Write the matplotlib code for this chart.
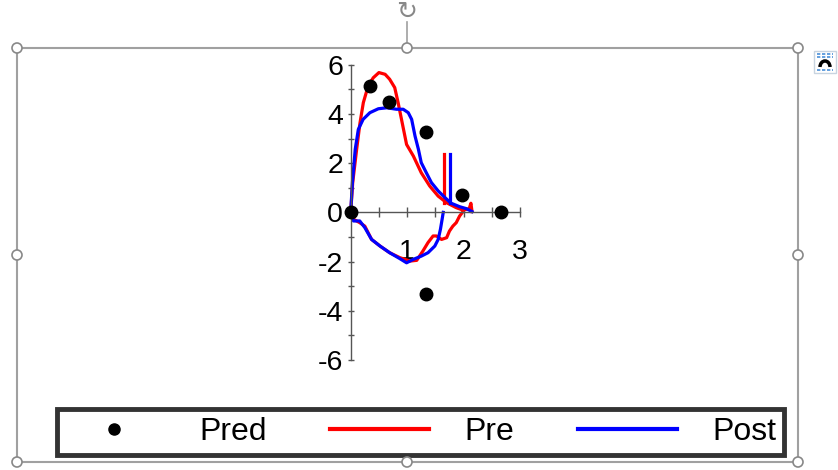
import matplotlib.pyplot as plt
from matplotlib.patches import Rectangle, Ellipse, Arc
from matplotlib.lines import Line2D

plt.rcParams['font.family'] = ['Liberation Sans', 'DejaVu Sans']
plt.rcParams['axes.unicode_minus'] = False

# Pred points
pred_x = [0.0, 0.35, 0.68, 1.33, 1.33, 1.98, 2.66]
pred_y = [0.0, 5.15, 4.5, 3.25, -3.33, 0.7, 0.0]

# Pre curve (upper branch, lower branch, vertical spike)
pre_up_x = [0.0, 0.035, 0.106, 0.165, 0.224, 0.31, 0.40, 0.50, 0.61, 0.69, 0.78, 0.84,
            0.90, 0.99, 1.11, 1.25, 1.40, 1.55, 1.70, 1.87, 1.99, 2.10, 2.13, 2.15]
pre_up_y = [0.0, 1.2, 2.57, 3.64, 4.46, 5.14, 5.47, 5.68, 5.61, 5.41, 5.07, 4.46,
            3.78, 2.76, 2.29, 1.61, 1.07, 0.66, 0.39, 0.19, 0.09, 0.15, 0.37, 0.03]
pre_low_x = [0.0, 0.05, 0.16, 0.25, 0.37, 0.52, 0.69, 0.87, 1.05, 1.17, 1.28, 1.37,
             1.46, 1.52, 1.61, 1.70, 1.75, 1.81, 1.87, 1.93, 1.98]
pre_low_y = [0.0, -0.28, -0.42, -0.56, -1.10, -1.37, -1.64, -1.84, -1.98, -1.95, -1.57, -1.23,
             -0.96, -0.96, -1.10, -1.03, -0.76, -0.56, -0.42, -0.15, 0.0]
pre_spike_x = [1.65, 1.65]
pre_spike_y = [0.39, 2.36]

# Post curve
post_up_x = [0.0, 0.03, 0.08, 0.135, 0.22, 0.34, 0.49, 0.64, 0.81, 0.93, 1.02, 1.08,
             1.14, 1.20, 1.25, 1.34, 1.43, 1.55, 1.67, 1.78, 1.93, 2.05, 2.15]
post_up_y = [0.0, 1.2, 2.56, 3.37, 3.78, 4.05, 4.21, 4.25, 4.19, 4.19, 4.05, 3.78,
             3.10, 2.56, 2.02, 1.61, 1.21, 0.87, 0.60, 0.37, 0.23, 0.15, 0.03]
post_low_x = [0.0, 0.05, 0.16, 0.25, 0.37, 0.52, 0.69, 0.87, 0.99, 1.11, 1.25, 1.37,
              1.49, 1.55, 1.59, 1.62, 1.64]
post_low_y = [0.0, -0.35, -0.35, -0.62, -1.10, -1.37, -1.64, -1.88, -2.05, -1.91, -1.78, -1.64,
              -1.37, -1.10, -0.69, -0.28, 0.0]
post_spike_x = [1.755, 1.755]
post_spike_y = [0.39, 2.36]

W, H = 838, 470
fig = plt.figure(figsize=(W / 100, H / 100), dpi=100)

def fx(px):
    return px / W

def fy(py):
    return 1 - py / H

ax = fig.add_axes([fx(350.7), fy(360), fx(520) - fx(350.7), fy(64.7) - fy(360)])
ax.set_xlim(0, 3)
ax.set_ylim(-6, 6)

red = '#ff0000'
blue = '#0000ff'
lw = 2.3
ax.plot(pre_up_x, pre_up_y, color=red, lw=lw, clip_on=False)
ax.plot(pre_low_x, pre_low_y, color=red, lw=lw, clip_on=False)
ax.plot(pre_spike_x, pre_spike_y, color=red, lw=lw, clip_on=False)
ax.plot(post_up_x, post_up_y, color=blue, lw=lw, clip_on=False)
ax.plot(post_low_x, post_low_y, color=blue, lw=lw, clip_on=False)
ax.plot(post_spike_x, post_spike_y, color=blue, lw=lw, clip_on=False)
ax.plot(pred_x, pred_y, 'o', color='black', ms=9, clip_on=False, zorder=5)

for s in ['top', 'right']:
    ax.spines[s].set_visible(False)
ax.spines['left'].set_position(('data', 0))
ax.spines['bottom'].set_position(('data', 0))
for s in ['left', 'bottom']:
    ax.spines[s].set_color('#555555')
    ax.spines[s].set_linewidth(1)

ax.set_yticks([-6, -4, -2, 0, 2, 4, 6])
ax.set_yticks([-5, -3, -1, 1, 3, 5], minor=True)
ax.set_xticks([1, 2, 3])
ax.set_xticks([0.5, 1.5, 2.5], minor=True)
ax.tick_params(which='both', direction='inout', length=7, width=1, color='#555555',
               labelsize=20.5)
ax.tick_params(axis='y', which='both', length=5, pad=3)
ax.tick_params(axis='x', which='both', pad=16)
ax.patch.set_visible(False)

# legend
handles = [Line2D([], [], ls='none', marker='o', color='black', ms=8),
           Line2D([], [], color=red, lw=3),
           Line2D([], [], color=blue, lw=3)]
leg = fig.legend(handles, ['Pred', 'Pre', 'Post'], loc='center',
                 bbox_to_anchor=((fx(58) + fx(783)) / 2, (fy(407) + fy(457)) / 2),
                 ncol=3, fontsize=23, frameon=True, fancybox=False,
                 handlelength=3.1, handletextpad=1.1, columnspacing=2.0,
                 borderpad=0.25)
leg.get_frame().set_edgecolor('#000000')
leg.get_frame().set_linewidth(3.5)

# selection frame with handles
gray = '#a0a0a0'
fig.add_artist(Rectangle((fx(17), fy(462)), fx(798) - fx(17), fy(48) - fy(462),
                         transform=fig.transFigure, fill=False, ec=gray, lw=1.5))
fig.add_artist(Line2D([fx(407), fx(407)], [fy(48), fy(22)], transform=fig.transFigure,
                      color=gray, lw=1.2))
for hx, hy in [(17, 48), (407, 48), (798, 48), (17, 255), (798, 255),
               (17, 462), (407, 462), (798, 462)]:
    fig.add_artist(Ellipse((fx(hx), fy(hy)), 10 / W, 10 / H, transform=fig.transFigure,
                           fc='white', ec='#888888', lw=1.2, zorder=10))
fig.text(fx(407), fy(12), '↻', ha='center', va='center', fontsize=18,
         color='#888888', family='DejaVu Sans')

# layout options icon
fig.add_artist(Rectangle((fx(814), fy(73)), 22 / W, 22 / H, transform=fig.transFigure,
                         fc='white', ec='#c8d4e0', lw=1))
for ly in [54, 57, 70]:
    fig.add_artist(Line2D([fx(817), fx(833)], [fy(ly), fy(ly)], transform=fig.transFigure,
                          color='#4a90d9', lw=1.2, ls=(0, (2, 1))))
fig.add_artist(Arc((fx(825), fy(67)), 10 / W, 12 / H, theta1=0, theta2=180,
                   transform=fig.transFigure, color='black', lw=2.5))

fig.savefig('out.png', dpi=100)
